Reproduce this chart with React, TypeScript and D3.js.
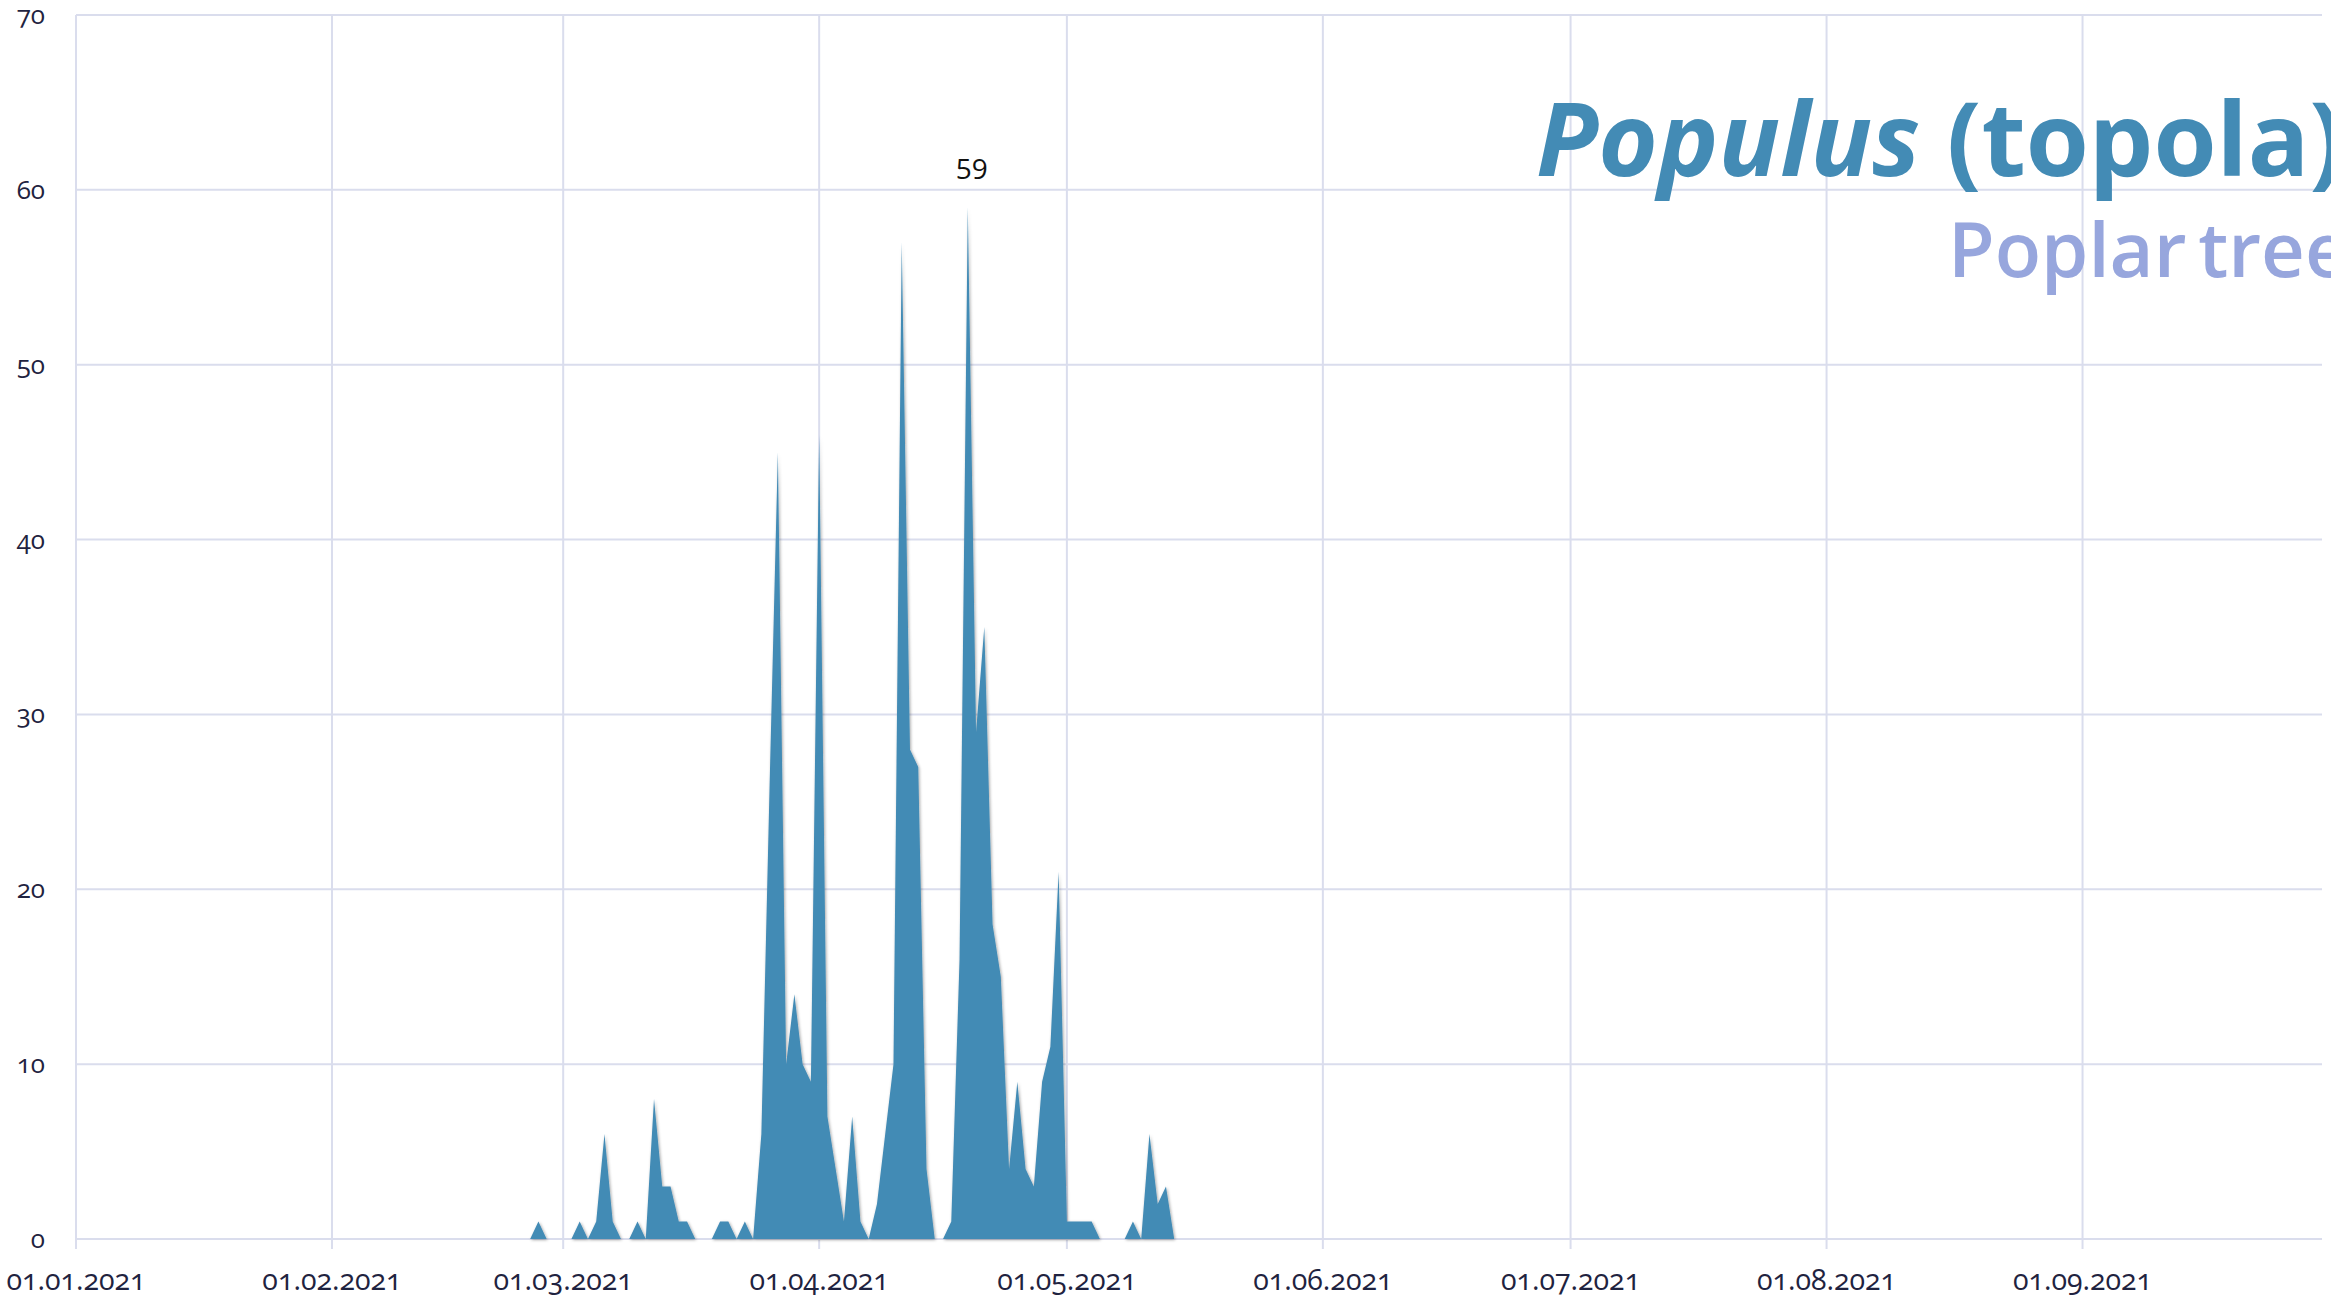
import React from 'react';
import * as d3 from 'd3';

const owidth = 2331;
const oheight = 1297;
const left = 76;
const right = 2322;
const top = 15;
const bottom = 1239;

// daily pollen counts, starting 25.02.2021
const startDay = new Date(Date.UTC(2021, 1, 25));
const values = [
  0, 1, 0, 0, 0, 0, 1, 0, 1, 6, 1, 0, 0, 1, 0, 8, 3, 3, 1, 1,
  0, 0, 0, 1, 1, 0, 1, 0, 6, 26, 45, 10, 14, 10, 9, 46, 7, 4, 1, 7,
  1, 0, 2, 6, 10, 57, 28, 27, 4, 0, 0, 1, 16, 59, 29, 35, 18, 15, 4, 9,
  4, 3, 9, 11, 21, 1, 1, 1, 1, 0, 0, 0, 0, 1, 0, 6, 2, 3, 0,
];
const yTicks = [0, 10, 20, 30, 40, 50, 60, 70];
const titleLatin = 'Populus';
const titleLocal = '(topola)';
const subtitle = 'Poplar tree';

const xScale = d3.scaleUtc()
  .domain([new Date(Date.UTC(2021, 0, 1)), new Date(Date.UTC(2021, 8, 30))])
  .range([left, right]);
const yScale = d3.scaleLinear().domain([0, 70]).range([bottom, top]);

const points = values.map((v, i) => ({ date: d3.utcDay.offset(startDay, i), value: v }));
const xTicks = d3.utcMonth.range(new Date(Date.UTC(2021, 0, 1)), new Date(Date.UTC(2021, 8, 30)));
const fmt = d3.utcFormat('%d.%m.%Y');

const area = d3.area<{ date: Date; value: number }>()
  .x(d => xScale(d.date))
  .y0(yScale(0))
  .y1(d => yScale(d.value));

const maxPoint = points.reduce((a, b) => (b.value > a.value ? b : a));

const gridColor = '#dadded';
const textColor = '#1f2340';
const fillColor = '#438bb5';
const font = '"Open Sans", sans-serif';

export default function App() {
  return (
    <svg
      width={owidth}
      height={oheight}
      viewBox={`0 0 ${owidth} ${oheight}`}
      style={{ position: 'absolute', left: 0, top: 0, display: 'block', background: '#fff' }}
    >
      <defs>
        <filter id="shadow" x="-20%" y="-20%" width="140%" height="140%">
          <feDropShadow dx="1" dy="1" stdDeviation="1.6" floodColor="#000" floodOpacity="0.35" />
        </filter>
      </defs>
      <g>
        {yTicks.map(t => (
          <line key={t} x1={left} x2={right} y1={yScale(t)} y2={yScale(t)} stroke={gridColor} strokeWidth={2} />
        ))}
        {xTicks.map(t => (
          <line key={+t} x1={xScale(t)} x2={xScale(t)} y1={top} y2={bottom + 10} stroke={gridColor} strokeWidth={2} />
        ))}
      </g>
      <path d={area(points) || ''} fill={fillColor} filter="url(#shadow)" />
      <g fontFamily={font} fill={textColor} fontSize={26} style={{ fontVariantNumeric: 'oldstyle-nums' }}>
        {yTicks.map(t => (
          <text key={t} x={45} y={yScale(t) + 9} textAnchor="end">{t}</text>
        ))}
        {xTicks.map(t => (
          <text key={+t} x={xScale(t)} y={1290} textAnchor="middle" fontSize={28.5}>{fmt(t)}</text>
        ))}
      </g>
      <text
        x={xScale(maxPoint.date) + 4}
        y={yScale(maxPoint.value) - 28}
        textAnchor="middle"
        fontFamily={font}
        fontSize={28}
        fill="#111"
      >
        {maxPoint.value}
      </text>
      <text x={1536} y={176} fontFamily={font} fontWeight={700} fontSize={102} fill={fillColor}>
        <tspan fontStyle="italic">{titleLatin}</tspan>
        <tspan> {titleLocal}</tspan>
      </text>
      <text x={1948} y={277} fontFamily={font} fontWeight={600} fontSize={76} fill="#97a6dd" wordSpacing={-8}>
        {subtitle}
      </text>
    </svg>
  );
}
